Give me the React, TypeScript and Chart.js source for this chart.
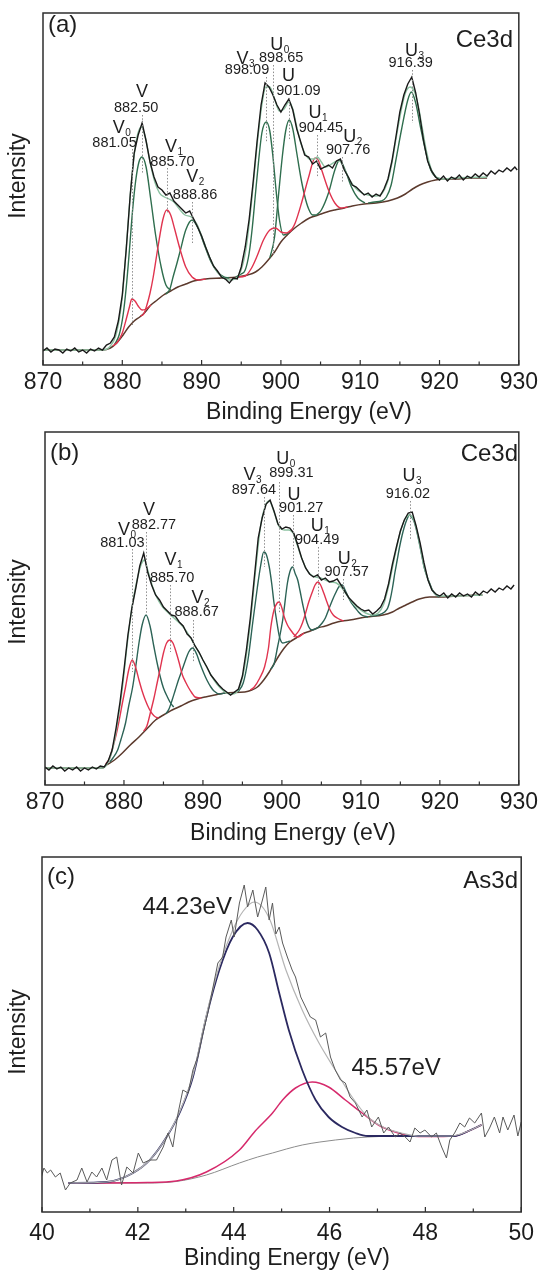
import React, { useEffect, useRef } from 'react';
import { Chart, registerables } from 'chart.js';

Chart.register(...registerables);

type P = [number, number];
const FONT = "'Liberation Sans', Arial, Helvetica, sans-serif";

// ---------------- Panel (a) Ce3d ----------------
const rawA: P[] = [[870,16],[870.5,19],[871,15],[871.5,18],[872,17],[872.5,14],[873,18],[873.5,16],[874,19],[874.5,15],[875,17],[875.5,14],[876,18],[876.5,16],[877,19],[877.5,17],[878,22],[878.5,24],[879,30],[879.5,46],[880,72],[880.5,118],[881,172],[881.5,214],[882,232],[882.5,244],[883,226],[883.5,205],[884,190],[884.5,180],[885,177],[885.5,172],[886,174],[886.5,166],[887,162],[887.5,158],[888,154],[888.5,156],[889,148],[889.5,140],[890,131],[890.5,120],[891,110],[891.5,101],[892,96],[892.5,90],[893,88],[893.5,84],[894,89],[894.5,88],[895,100],[895.5,120],[896,148],[896.5,185],[897,226],[897.5,262],[898,284],[898.5,280],[899,272],[899.5,262],[900,255],[900.5,262],[901,268],[901.5,257],[902,238],[902.5,225],[903,212],[903.5,210],[904,203],[904.5,206],[905,198],[905.5,200],[906,202],[906.5,199],[907,206],[907.5,208],[908,197],[908.5,190],[909,182],[909.5,180],[910,176],[910.5,172],[911,174],[911.5,170],[912,173],[912.5,171],[913,178],[913.5,188],[914,206],[914.5,230],[915,255],[915.5,272],[916,283],[916.5,290],[917,274],[917.5,252],[918,226],[918.5,206],[919,196],[919.5,190],[920,187],[920.5,191],[921,186],[921.5,190],[922,188],[922.5,192],[923,187],[923.5,191],[924,189],[924.5,193],[925,190],[925.5,194],[926,191],[926.5,196],[927,193],[927.5,197],[928,195],[928.5,199],[929,196],[929.5,200],[929.8,197]];
const envA: P[] = [[870,17],[877.5,17],[878.5,21],[879.3,35],[880,70],[880.6,130],[881.2,190],[881.8,228],[882.4,240],[882.9,230],[883.5,205],[884.1,185],[884.7,174],[885.3,170],[885.9,168],[886.5,165],[887.2,158],[887.9,152],[888.7,150],[889.4,143],[890.2,127],[891,110],[891.8,97],[892.6,90],[893.4,87],[894.2,88],[894.9,95],[895.6,118],[896.3,165],[897,222],[897.6,262],[898.1,280],[898.6,280],[899.2,268],[899.8,256],[900.4,258],[901,265],[901.5,258],[902,240],[902.5,224],[903,214],[903.6,208],[904.2,208],[904.6,210],[905.1,205],[905.6,200],[906.2,202],[906.8,205],[907.4,206],[908,198],[908.7,187],[909.4,179],[910.2,174],[911,172],[912,171],[912.8,174],[913.4,184],[914,204],[914.6,232],[915.2,258],[915.7,274],[916.3,280],[916.8,276],[917.3,262],[917.8,240],[918.4,214],[919,197],[919.6,190],[920.3,188],[922,189],[926,190]];
const bgA: P[] = [[870,17],[877.5,17],[878.5,19],[879.3,24],[880.1,32],[880.8,40],[881.5,46],[882.2,50],[882.9,55],[883.6,62],[884.4,67],[885.2,72],[886.1,76],[887,80],[888,83],[889,86],[890.5,88],[892.5,89],[894.5,90],[895.8,92],[896.8,95],[897.6,100],[898.4,107],[899.2,115],[900,125],[900.8,132],[901.6,138],[902.6,144],[903.6,149],[904.7,152],[905.8,155],[906.8,157],[908,159],[909,161],[910.5,163],[912,164],[913.5,166],[914.7,169],[915.7,173],[916.6,178],[917.5,182],[918.5,185],[919.5,187],[920.5,188],[922,188],[924,189],[926,189]];
const v0A: P[] = [[878.8,21],[879.4,25],[880.0,34],[880.5,48],[880.9,60],[881.2,68],[881.6,66],[882.0,61],[882.5,57],[883.0,58],[883.6,62]];
const vA: P[] = [[879.0,22],[879.6,32],[880.1,52],[880.5,80],[880.9,117],[881.3,157],[881.7,187],[882.1,205],[882.5,210],[883.0,200],[883.6,167],[884.2,132],[884.9,100],[885.5,82],[886.1,77]];
const v1A: P[] = [[882.3,51],[882.7,53],[883.1,62],[883.5,74],[883.9,90],[884.5,120],[885.1,147],[885.6,157],[886.1,152],[886.6,138],[887.2,120],[888.0,100],[888.8,90],[889.7,87],[890.5,88]];
const v2A: P[] = [[885.5,73],[886.0,78],[886.4,90],[886.9,104],[887.3,116],[888.0,137],[888.8,147],[889.6,138],[890.4,121],[891.2,105],[892.0,95],[892.8,90],[893.5,89]];
const v3A: P[] = [[894.3,90],[895.0,93],[895.5,97],[896.0,114],[896.4,140],[896.8,174],[897.2,207],[897.6,234],[898.15,245],[898.6,236],[899.0,210],[899.4,176],[899.8,148],[900.3,132],[901.0,134]];
const u0A: P[] = [[894.5,90],[895.5,91],[896.3,99],[897.0,111],[897.8,127],[898.6,137],[899.3,139],[900.0,135],[900.7,134],[901.4,138]];
const uA: P[] = [[898.6,109],[899.2,130],[899.7,172],[900.2,212],[900.6,236],[901.05,247],[901.5,238],[902.0,214],[902.5,190],[903.0,171],[903.5,158],[904.0,152],[904.5,152]];
const u1A: P[] = [[901.2,135],[901.8,144],[902.6,164],[903.5,190],[904.3,209],[904.7,207],[905.1,198],[906.0,177],[906.8,164],[907.6,159],[908.4,160]];
const u2A: P[] = [[904.5,152],[905.1,157],[906.0,174],[906.8,197],[907.4,207],[908.1,197],[908.9,180],[909.7,169],[910.6,164]];
const u3A: P[] = [[911.0,164],[911.8,165],[912.65,166],[913.3,170],[913.9,182],[914.5,207],[915.2,237],[916.0,267],[916.45,275],[917.0,264],[917.6,240],[918.3,214],[918.9,197],[919.5,190],[920.2,188]];

// ---------------- Panel (b) Ce3d ----------------
const rawB: P[] = [[870,21],[870.5,18],[871,22],[871.5,19],[872,21],[872.5,17],[873,20],[873.5,18],[874,21],[874.5,17],[875,20],[875.5,18],[876,21],[876.5,19],[877,22],[877.5,21],[878,27],[878.5,38],[879,60],[879.5,86],[880,118],[880.5,153],[881,180],[881.5,200],[882,222],[882.5,235],[883,216],[883.5,203],[884,193],[884.5,188],[885,181],[885.5,177],[886,173],[886.5,172],[887,166],[887.5,162],[888,154],[888.5,150],[889,142],[889.5,136],[890,128],[890.5,121],[891,113],[891.5,108],[892,103],[892.5,99],[893,96],[893.5,93],[894,96],[894.5,99],[895,112],[895.5,138],[896,170],[896.5,210],[897,250],[897.5,270],[898,284],[898.5,288],[899,277],[899.5,264],[900,259],[900.5,261],[901,260],[901.5,255],[902,243],[902.5,230],[903,220],[903.5,214],[904,211],[904.5,213],[905,208],[905.5,210],[906,206],[906.5,207],[907,209],[907.5,203],[908,196],[908.5,190],[909,186],[909.5,182],[910,179],[910.5,177],[911,178],[911.5,174],[912,177],[912.5,181],[913,189],[913.5,204],[914,224],[914.5,241],[915,257],[915.5,268],[916,275],[916.5,276],[917,262],[917.5,245],[918,225],[918.5,208],[919,198],[919.5,194],[920,192],[920.5,195],[921,190],[921.5,194],[922,191],[922.5,195],[923,192],[923.5,194],[924,191],[924.5,196],[925,193],[925.5,197],[926,195],[926.5,199],[927,196],[927.5,200],[928,198],[928.5,202],[929,199],[929.4,203]];
const envB: P[] = [[870,20],[877.3,20],[878,26],[878.6,40],[879.2,66],[879.8,100],[880.4,143],[881,180],[881.6,206],[882.2,224],[882.6,228],[883.0,218],[883.6,202],[884.2,190],[884.8,182],[885.5,176],[886.2,171],[886.9,166],[887.6,160],[888.3,152],[889.0,142],[889.8,131],[890.6,119],[891.4,108],[892.2,100],[893.0,95],[893.8,94],[894.6,100],[895.3,122],[896.0,165],[896.7,220],[897.3,262],[897.9,282],[898.4,287],[899.0,276],[899.6,262],[900.3,258],[900.9,258],[901.4,255],[901.9,244],[902.5,230],[903.1,219],[903.7,213],[904.3,211],[904.9,210],[905.5,208],[906.2,206],[906.9,205],[907.6,200],[908.3,192],[909.0,185],[909.8,179],[910.6,175],[911.4,173],[912.2,175],[912.9,184],[913.6,205],[914.3,232],[915.0,256],[915.6,269],[916.2,273],[916.8,266],[917.4,246],[918.0,222],[918.7,204],[919.3,195],[920,192],[922,192],[925.4,193]];
const bgB: P[] = [[870,20],[877.3,20],[877.8,23],[878.8,28],[879.8,35],[880.8,43],[881.9,51],[883.0,60],[884.0,68],[885.0,73],[886.1,78],[887.2,82],[888.2,86],[889.3,89],[890.3,91],[891.5,93],[892.8,95],[895.3,96],[896.2,98],[896.9,101],[897.7,108],[898.4,116],[899.0,124],[899.6,132],[900.3,140],[901.0,146],[901.8,150],[902.6,154],[903.6,157],[904.5,160],[905.5,162],[906.6,165],[907.6,167],[908.6,168],[910.7,171],[912.8,173],[914.0,176],[914.9,180],[915.7,183],[916.5,186],[917.4,189],[918.7,191],[920,191],[922,192],[925.4,193]];
const v0B: P[] = [[877.7,24],[878.2,30],[878.6,41],[879.0,53],[879.4,68],[879.8,85],[880.2,101],[880.6,118],[881.05,128],[881.5,120],[881.9,108],[882.3,97],[882.7,88],[883.2,79],[883.6,74],[884.0,71],[884.4,70]];
const vB: P[] = [[878.2,26],[878.6,30],[879.2,38],[879.6,48],[880.2,65],[880.6,82],[881.1,101],[881.5,122],[881.9,145],[882.3,163],[882.8,173],[883.3,162],[883.8,141],[884.2,125],[884.6,111],[885.0,100],[885.5,91],[885.9,85],[886.3,81]];
const v1B: P[] = [[882.5,57],[882.9,62],[883.4,77],[883.8,90],[884.2,105],[884.6,120],[885.0,135],[885.4,145],[885.8,148],[886.2,145],[886.6,136],[887.0,125],[887.4,113],[887.8,106],[888.2,100],[888.6,95],[889.0,91],[889.8,90]];
const v2B: P[] = [[885.3,74],[885.7,79],[886.1,88],[886.5,98],[886.9,108],[887.4,119],[887.8,128],[888.2,136],[888.7,140],[889.2,134],[889.6,125],[890.1,115],[890.5,108],[891.0,101],[891.4,97],[892.1,94],[892.8,95]];
const v3B: P[] = [[894.4,96],[895.1,105],[895.7,128],[896.3,165],[896.9,201],[897.3,222],[897.7,236],[898.0,234],[898.4,221],[898.7,205],[899.0,185],[899.4,164],[899.7,151],[900.1,145],[900.6,146],[901.0,147]];
const u0B: P[] = [[896.0,98],[896.5,101],[897.2,110],[897.8,121],[898.3,140],[898.6,161],[899.0,178],[899.4,185],[899.65,186],[900.0,180],[900.3,171],[900.7,163],[901.1,158],[901.6,153],[902.0,151],[902.8,155]];
const uB: P[] = [[898.6,119],[899.0,124],[899.45,141],[900.1,168],[900.7,205],[901.0,216],[901.35,221],[901.7,214],[902.0,208],[902.3,197],[902.6,185],[903.2,165],[903.8,158],[904.5,160]];
const u1B: P[] = [[901.5,151],[902.2,158],[902.6,165],[903.0,175],[903.4,186],[903.8,195],[904.2,203],[904.55,206],[904.9,203],[905.3,195],[905.7,186],[906.1,178],[906.5,173],[907.0,170],[907.8,167]];
const u2B: P[] = [[904.5,160],[905.1,165],[905.5,170],[905.9,178],[906.4,188],[906.8,195],[907.2,201],[907.65,203],[908.0,198],[908.4,191],[908.8,185],[909.3,180],[909.7,176],[910.1,173],[910.9,171]];
const u3B: P[] = [[911.2,172],[912.2,173],[913.0,176],[913.4,180],[913.7,188],[914.0,200],[914.3,215],[914.6,228],[914.9,241],[915.2,252],[915.5,261],[915.8,268],[916.15,273],[916.5,270],[916.8,265],[917.1,256],[917.4,245],[917.7,233],[918.0,221],[918.4,211],[918.7,205],[919.0,199],[919.3,195],[919.9,191]];

// ---------------- Panel (c) As3d ----------------
const rawC: P[] = [[39.97,34],[40.04,46],[40.11,41],[40.18,44],[40.28,37],[40.38,41],[40.49,24],[40.59,31],[40.73,34],[40.83,46],[40.94,32],[41.04,42],[41.14,37],[41.25,46],[41.35,34],[41.46,54],[41.56,57],[41.66,29],[41.77,47],[41.9,41],[42.01,61],[42.11,51],[42.25,54],[42.39,54],[42.53,67],[42.63,81],[42.73,67],[42.84,101],[42.94,124],[43.05,121],[43.15,144],[43.25,157],[43.36,181],[43.46,201],[43.57,227],[43.67,251],[43.77,257],[43.84,277],[43.95,294],[44.01,277],[44.12,311],[44.22,329],[44.29,307],[44.4,324],[44.5,297],[44.6,314],[44.67,327],[44.74,294],[44.81,311],[44.88,280],[44.95,287],[45.02,271],[45.12,257],[45.22,244],[45.29,237],[45.4,217],[45.5,207],[45.6,197],[45.71,194],[45.81,177],[45.92,181],[46.02,157],[46.12,144],[46.23,134],[46.33,131],[46.43,117],[46.54,111],[46.68,97],[46.78,104],[46.88,87],[47.02,97],[47.13,81],[47.23,87],[47.37,77],[47.47,81],[47.58,77],[47.68,72],[47.78,86],[47.89,81],[47.99,84],[48.13,77],[48.23,81],[48.34,67],[48.44,56],[48.51,74],[48.61,81],[48.72,91],[48.82,87],[48.92,96],[49.03,91],[49.17,101],[49.24,77],[49.34,86],[49.44,97],[49.55,81],[49.62,97],[49.72,84],[49.85,99],[49.93,78],[50.0,92]];
const envC: P[] = [[40.55,31],[41.35,32],[41.9,41],[42.25,54],[42.6,77],[42.87,102],[43.15,139],[43.43,199],[43.7,248],[43.98,284],[44.2,303],[44.43,312],[44.74,296],[45.09,244],[45.43,204],[45.78,171],[46.12,144],[46.47,117],[46.8,97],[47.16,86],[47.5,81],[47.85,78],[48.54,78],[48.9,83],[49.17,89]];
const bgC: P[] = [[40.55,31],[42.2,31],[42.8,32.5],[43.43,39],[44.12,51],[44.5,57],[44.81,61],[45.1,65],[45.43,69],[45.8,72],[46.12,74],[46.5,76],[46.8,77],[47.5,78],[48.6,78],[48.9,83],[49.17,89]];
const peak1C: P[] = [[40.55,31],[41.35,32],[41.9,41],[42.25,54],[42.6,77],[42.87,101],[43.15,137],[43.43,197],[43.7,244],[43.98,277],[44.29,291],[44.5,284],[44.74,261],[44.95,221],[45.15,184],[45.43,144],[45.71,114],[45.98,97],[46.26,87],[46.54,81],[46.8,78],[47.5,78],[48.6,78],[48.9,83],[49.17,89]];
const peak2C: P[] = [[40.55,31],[42.2,31.5],[42.8,33],[43.43,42],[44.12,64],[44.45,83],[44.81,101],[45.02,114],[45.29,126],[45.64,132],[45.98,127],[46.33,114],[46.68,101],[47.02,89],[47.37,82],[47.71,78],[48.06,77.5],[48.6,78],[48.9,83],[49.17,89]];

// tick labels and tick marks
const ceTicks = [870, 880, 890, 900, 910, 920, 930];
const ceMarks = [870, 875, 880, 885, 890, 895, 900, 905, 910, 915, 920, 925, 930];
const asTicks = [40, 42, 44, 46, 48, 50];
const asMarks = [40, 41, 42, 43, 44, 45, 46, 47, 48, 49, 50];

interface Curve { pts: P[]; color: string; width: number; raw?: boolean }
interface Ann { sym?: string; sub?: string; num: string; lx?: number; ly1?: number; ly2?: number; sx?: number; sy?: number; nx: number; ny: number; big?: boolean }

const annA: Ann[] = [
  { sym: 'V', sub: '0', num: '881.05', lx: 881.2, ly1: 218, ly2: 42, sx: 879.56, sy: 239, nx: 879.02, ny: 224 },
  { sym: 'V', num: '882.50', lx: 882.5, ly1: 252, ly2: 194, sx: 882.49, sy: 275, nx: 881.74, ny: 259 },
  { sym: 'V', sub: '1', num: '885.70', lx: 885.6, ly1: 199, ly2: 154, sx: 886.13, sy: 220, nx: 886.33, ny: 205 },
  { sym: 'V', sub: '2', num: '888.86', lx: 888.8, ly1: 165, ly2: 124, sx: 888.83, sy: 190, nx: 889.17, ny: 172 },
  { sym: 'V', sub: '3', num: '898.09', lx: 898.15, ly1: 290, ly2: 224, sx: 895.15, sy: 308, nx: 895.73, ny: 297 },
  { sym: 'U', sub: '0', num: '898.65', lx: 899.05, ly1: 302, ly2: 112, sx: 899.49, sy: 322, nx: 900.04, ny: 309 },
  { sym: 'U', num: '901.09', lx: 901.0, ly1: 269, ly2: 227, sx: 900.95, sy: 291, nx: 902.2, ny: 276 },
  { sym: 'U', sub: '1', num: '904.45', lx: 904.5, ly1: 232, ly2: 190, sx: 904.3, sy: 254, nx: 905.05, ny: 239 },
  { sym: 'U', sub: '2', num: '907.76', lx: 907.7, ly1: 210, ly2: 184, sx: 908.68, sy: 230, nx: 908.47, ny: 217 },
  { sym: 'U', sub: '3', num: '916.39', lx: 916.5, ly1: 297, ly2: 244, sx: 916.47, sy: 316, nx: 916.37, ny: 304 },
];
const annB: Ann[] = [
  { sym: 'V', sub: '0', num: '881.03', lx: 881.07, ly1: 239, ly2: 116, sx: 880.0, sy: 258, nx: 879.8, ny: 245 },
  { sym: 'V', num: '882.77', lx: 882.8, ly1: 256, ly2: 175, sx: 883.16, sy: 278, nx: 883.8, ny: 263 },
  { sym: 'V', sub: '1', num: '885.70', lx: 885.8, ly1: 203, ly2: 136, sx: 885.9, sy: 228, nx: 886.1, ny: 210 },
  { sym: 'V', sub: '2', num: '888.67', lx: 888.7, ly1: 168, ly2: 126, sx: 889.3, sy: 190, nx: 889.2, ny: 176 },
  { sym: 'V', sub: '3', num: '897.64', lx: 897.7, ly1: 291, ly2: 221, sx: 895.9, sy: 313, nx: 896.45, ny: 298 },
  { sym: 'U', sub: '0', num: '899.31', lx: 899.66, ly1: 306, ly2: 175, sx: 900.1, sy: 329, nx: 901.2, ny: 315 },
  { sym: 'U', num: '901.27', lx: 901.4, ly1: 273, ly2: 218, sx: 901.54, sy: 293, nx: 902.45, ny: 280 },
  { sym: 'U', sub: '1', num: '904.49', lx: 904.55, ly1: 241, ly2: 191, sx: 904.46, sy: 262, nx: 904.46, ny: 248 },
  { sym: 'U', sub: '2', num: '907.57', lx: 907.7, ly1: 209, ly2: 188, sx: 907.9, sy: 229, nx: 908.2, ny: 216 },
  { sym: 'U', sub: '3', num: '916.02', lx: 916.16, ly1: 287, ly2: 248, sx: 916.1, sy: 312, nx: 915.95, ny: 294 },
];
const annC: Ann[] = [
  { num: '44.23eV', nx: 43.03, ny: 307, big: true },
  { num: '45.57eV', nx: 47.39, ny: 146, big: true },
];

const RAW = '#1a1a1a';
const ENV = '#8dc2a2';
const GRN_A = '#2f6e4e';
const GRN_B = '#2c6356';
const RED = '#e0344f';
const BG = '#5c3a2d';

interface PanelCfg {
  top: number; height: number; padTop: number; padRight: number; yWidth: number; xHeight: number;
  xmin: number; xmax: number; ymin: number; ymax: number; ticks: number[]; marks: number[]; majors: number[]; tickPad: number;
  curves: Curve[]; ann: Ann[];
  tag: string; tagX: number; tagY: number; elem: string; elemX: number; elemY: number;
  titleX: number; titleY: number; intX: number; intY: number;
}

const panels: PanelCfg[] = [
  {
    top: 0, height: 428, padTop: 13, padRight: 21, yWidth: 43, xHeight: 63,
    xmin: 870, xmax: 930, ymin: 2, ymax: 354, ticks: ceTicks, marks: ceMarks, majors: ceTicks, tickPad: 4,
    curves: [
      { pts: rawA, color: RAW, width: 1.4, raw: true },
      { pts: envA, color: ENV, width: 1.4 },
      { pts: v0A, color: RED, width: 1.4 }, { pts: v1A, color: RED, width: 1.4 },
      { pts: u0A, color: RED, width: 1.4 }, { pts: u1A, color: RED, width: 1.4 },
      { pts: vA, color: GRN_A, width: 1.4 }, { pts: v2A, color: GRN_A, width: 1.4 },
      { pts: v3A, color: GRN_A, width: 1.4 }, { pts: uA, color: GRN_A, width: 1.4 },
      { pts: u2A, color: GRN_A, width: 1.4 }, { pts: u3A, color: GRN_A, width: 1.4 },
      { pts: bgA, color: BG, width: 1.5 },
    ],
    ann: annA, tag: '(a)', tagX: 48, tagY: 25, elem: 'Ce3d', elemX: 513, elemY: 40,
    titleX: 309, titleY: 413, intX: 19, intY: 176,
  },
  {
    top: 428, height: 420, padTop: 4, padRight: 18, yWidth: 45, xHeight: 63,
    xmin: 870, xmax: 930, ymin: 3, ymax: 356, ticks: ceTicks, marks: ceMarks, majors: ceTicks, tickPad: 4,
    curves: [
      { pts: rawB, color: RAW, width: 1.4, raw: true },
      { pts: envB, color: ENV, width: 1.4 },
      { pts: v0B, color: RED, width: 1.4 }, { pts: v1B, color: RED, width: 1.4 },
      { pts: u0B, color: RED, width: 1.4 }, { pts: u1B, color: RED, width: 1.4 },
      { pts: vB, color: GRN_B, width: 1.4 }, { pts: v2B, color: GRN_B, width: 1.4 },
      { pts: v3B, color: GRN_B, width: 1.4 }, { pts: uB, color: GRN_B, width: 1.4 },
      { pts: u2B, color: GRN_B, width: 1.4 }, { pts: u3B, color: GRN_B, width: 1.4 },
      { pts: bgB, color: BG, width: 1.5 },
    ],
    ann: annB, tag: '(b)', tagX: 50, tagY: 25, elem: 'Ce3d', elemX: 518, elemY: 26,
    titleX: 293, titleY: 406, intX: 19, intY: 174,
  },
  {
    top: 848, height: 427, padTop: 9, padRight: 18, yWidth: 42, xHeight: 63,
    xmin: 40, xmax: 50, ymin: 2, ymax: 357, ticks: asTicks, marks: asMarks, majors: asTicks, tickPad: 8,
    curves: [
      { pts: rawC, color: '#5a5a5a', width: 1, raw: true },
      { pts: envC, color: '#b4b4b4', width: 1.2 },
      { pts: peak1C, color: '#2b2960', width: 1.8 },
      { pts: peak2C, color: '#d62a6c', width: 1.5 },
      { pts: bgC, color: '#8c8c8c', width: 1 },
    ],
    ann: annC, tag: '(c)', tagX: 47, tagY: 29, elem: 'As3d', elemX: 518, elemY: 33,
    titleX: 287, titleY: 411, intX: 19, intY: 184,
  },
];

function decorPlugin(cfg: PanelCfg) {
  return {
    id: 'decor',
    afterDatasetsDraw(chart: any) {
      const { ctx, chartArea: a, scales } = chart;
      const xs = scales.x;
      const ys = scales.y;
      ctx.save();
      // dotted peak markers
      ctx.strokeStyle = '#8e8e8e';
      ctx.lineWidth = 1;
      ctx.setLineDash([1.5, 1.8]);
      for (const an of cfg.ann) {
        if (an.lx === undefined || an.ly1 === undefined || an.ly2 === undefined) continue;
        const x = Math.round(xs.getPixelForValue(an.lx)) + 0.5;
        ctx.beginPath();
        ctx.moveTo(x, ys.getPixelForValue(an.ly1));
        ctx.lineTo(x, ys.getPixelForValue(an.ly2));
        ctx.stroke();
      }
      ctx.setLineDash([]);
      // frame
      ctx.strokeStyle = '#2e2e2e';
      ctx.lineWidth = 1.5;
      ctx.strokeRect(a.left, a.top, a.right - a.left, a.bottom - a.top);
      // inward tick marks on the energy axis
      ctx.lineWidth = 1.2;
      for (const m of cfg.marks) {
        const x = xs.getPixelForValue(m);
        const len = cfg.majors.includes(m) ? 5 : 3.5;
        ctx.beginPath();
        ctx.moveTo(x, a.bottom);
        ctx.lineTo(x, a.bottom - len);
        ctx.stroke();
      }
      // annotation texts
      ctx.fillStyle = '#1e1e1e';
      ctx.textBaseline = 'middle';
      for (const an of cfg.ann) {
        if (an.big) {
          ctx.font = `24px ${FONT}`;
          ctx.textAlign = 'center';
          ctx.fillText(an.num, xs.getPixelForValue(an.nx), ys.getPixelForValue(an.ny));
          continue;
        }
        ctx.font = `14.5px ${FONT}`;
        ctx.textAlign = 'center';
        ctx.fillText(an.num, xs.getPixelForValue(an.nx), ys.getPixelForValue(an.ny));
        if (an.sym && an.sx !== undefined && an.sy !== undefined) {
          const sx = xs.getPixelForValue(an.sx);
          const sy = ys.getPixelForValue(an.sy);
          ctx.font = `18px ${FONT}`;
          ctx.textAlign = 'center';
          ctx.fillText(an.sym, sx, sy);
          if (an.sub) {
            const w = ctx.measureText(an.sym).width;
            ctx.font = `10px ${FONT}`;
            ctx.textAlign = 'left';
            ctx.fillText(an.sub, sx + w / 2 + 0.5, sy + 5);
          }
        }
      }
      // panel tag and element
      ctx.font = `24px ${FONT}`;
      ctx.textAlign = 'left';
      ctx.fillText(cfg.tag, cfg.tagX, cfg.tagY);
      ctx.textAlign = 'right';
      ctx.fillText(cfg.elem, cfg.elemX, cfg.elemY);
      // axis titles
      ctx.font = `23px ${FONT}`;
      ctx.textAlign = 'center';
      ctx.fillText('Binding Energy (eV)', cfg.titleX, cfg.titleY);
      ctx.translate(cfg.intX, cfg.intY);
      ctx.rotate(-Math.PI / 2);
      ctx.fillText('Intensity', 0, 0);
      ctx.restore();
    },
  };
}

function Panel({ cfg }: { cfg: PanelCfg }) {
  const ref = useRef<HTMLCanvasElement>(null);
  useEffect(() => {
    if (!ref.current) return;
    const chart = new Chart(ref.current, {
      type: 'line',
      data: {
        datasets: cfg.curves.map((c) => ({
          data: c.pts.map(([x, y]) => ({ x, y })),
          borderColor: c.color,
          borderWidth: c.width,
          pointRadius: 0,
          fill: false,
          tension: c.raw ? 0 : 0.4,
          cubicInterpolationMode: c.raw ? 'default' : 'monotone',
        })) as any,
      },
      options: {
        responsive: false,
        animation: false,
        events: [],
        layout: { padding: { top: cfg.padTop, right: cfg.padRight, left: 0, bottom: 0 }, autoPadding: false } as any,
        plugins: { legend: { display: false }, tooltip: { enabled: false } },
        scales: {
          x: {
            type: 'linear',
            min: cfg.xmin,
            max: cfg.xmax,
            afterBuildTicks: (s: any) => { s.ticks = cfg.ticks.map((v) => ({ value: v })); },
            afterFit: (s: any) => { s.height = cfg.xHeight; },
            grid: { display: false, drawTicks: false },
            border: { display: false },
            ticks: { font: { family: FONT, size: 23 }, color: '#1c1c1c', padding: cfg.tickPad, maxRotation: 0, autoSkip: false },
          },
          y: {
            type: 'linear',
            min: cfg.ymin,
            max: cfg.ymax,
            afterFit: (s: any) => { s.width = cfg.yWidth; },
            grid: { display: false, drawTicks: false },
            border: { display: false },
            ticks: { display: false },
          },
        },
      } as any,
      plugins: [decorPlugin(cfg)],
    });
    return () => chart.destroy();
  }, [cfg]);
  return (
    <canvas
      ref={ref}
      width={542}
      height={cfg.height}
      style={{ position: 'absolute', left: 0, top: cfg.top, width: 542, height: cfg.height }}
    />
  );
}

export default function App() {
  return (
    <div style={{ position: 'absolute', left: 0, top: 0, width: 542, height: 1275, background: '#ffffff', overflow: 'hidden' }}>
      {panels.map((p, i) => (
        <Panel key={i} cfg={p} />
      ))}
    </div>
  );
}
